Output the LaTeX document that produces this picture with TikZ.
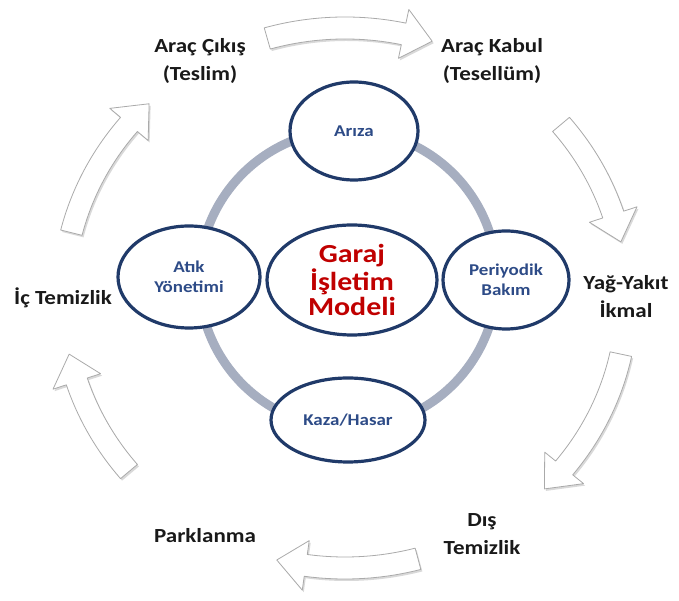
\documentclass[tikz,border=0pt]{standalone}
\usepackage{fontspec}
\usetikzlibrary{shapes.geometric}
\newfontfamily\labfont{Carlito}[FakeStretch=1.15]
\definecolor{navy}{RGB}{32,58,105}
\definecolor{innertext}{RGB}{45,75,135}
\definecolor{centerred}{RGB}{192,0,0}
\definecolor{ringgray}{RGB}{166,174,192}
\definecolor{arrowline}{RGB}{170,170,170}
\definecolor{labelblack}{RGB}{25,25,25}
\tikzset{
  ring/.style={draw=ringgray, line width=9pt},
  bubble/.style={ellipse, draw=navy, line width=3.2pt, fill=white, inner sep=0pt,
    text=innertext, align=center, font=\labfont\bfseries\fontsize{16.5}{20}\selectfont},
  hub/.style={bubble, text=centerred, font=\labfont\bfseries\fontsize{26}{25}\selectfont},
  steplabel/.style={text=labelblack, align=center, inner sep=0pt,
    font=\labfont\bfseries\fontsize{20}{28}\selectfont},
  arrowbody/.style={fill=white, draw=arrowline, line width=0.8pt, line join=round,
    preaction={draw=none, fill=black!15, transform canvas={xshift=1.5pt, yshift=-2pt}}}
}
% curved block arrow on an ellipse centred at (345,303), rx 282, ry 270
\newcommand\flowarrow[2]{%
  \pgfmathsetmacro\aA{#1}%
  \pgfmathsetmacro\aT{#2}%
  \pgfmathsetmacro\aB{#2-sign(#2-#1)*6}%
  \begin{scope}[shift={(345,303)}]
    \draw[arrowbody] (\aA:293 and 281)
      arc[start angle=\aA, end angle=\aB, x radius=293, y radius=281]
      -- (\aB:307 and 295) -- (\aT:282 and 270) -- (\aB:257 and 245)
      -- (\aB:271 and 259)
      arc[start angle=\aB, end angle=\aA, x radius=271, y radius=259]
      -- cycle;
  \end{scope}}
\begin{document}
\begin{tikzpicture}[x=1pt, y=1pt]
\useasboundingbox (0,0) rectangle (679,601);
\fill[white] (0,0) rectangle (679,601);

% outer cycle arrows
\flowarrow{106}{72}
\flowarrow{40}{12}
\flowarrow{-12}{-45}
\flowarrow{-75}{-104}
\flowarrow{220}{192}
\flowarrow{166}{134}

% outer labels
\node[steplabel] (cikis) at (200,540) {Araç Çıkış\\(Teslim)};
\node[steplabel] (kabul) at (492,540) {Araç Kabul\\(Tesellüm)};
\node[steplabel] (ikmal) at (626,304) {Yağ-Yakıt\\İkmal};
\node[steplabel] (dis) at (482,67) {Dış\\Temizlik};
\node[steplabel] (park) at (205,65) {Parklanma};
\node[steplabel] (ic) at (63,303) {İç Temizlik};

% inner ring
\coordinate (ringc) at (348,322);
\draw[ring] (ringc) circle (149);

% bubbles
\node[bubble, minimum width=128, minimum height=98] (ariza) at (354,470) {Arıza};
\node[bubble, minimum width=142, minimum height=102] (atik) at (189,324) {Atık\\Yönetimi};
\node[bubble, minimum width=126, minimum height=98] (bakim) at (506,321) {Periyodik\\Bakım};
\node[bubble, minimum width=154, minimum height=84] (kaza) at (348,181) {Kaza/Hasar};
\node[hub, minimum width=170, minimum height=110] (garaj) at (352,321) {Garaj\\İşletim\\Modeli};
\end{tikzpicture}
\end{document}
